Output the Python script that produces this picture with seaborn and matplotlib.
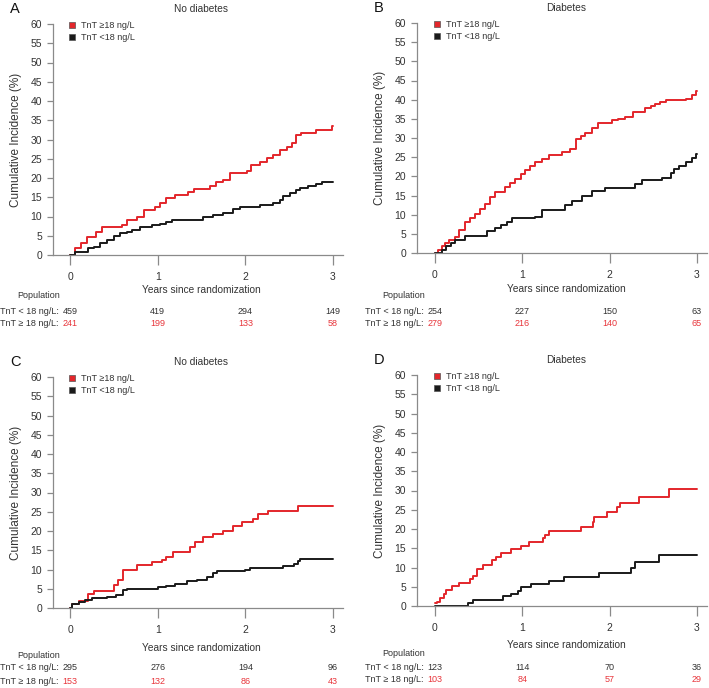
import numpy as np
import pandas as pd
import matplotlib
matplotlib.use("Agg")
import matplotlib.pyplot as plt
from matplotlib.lines import Line2D
import seaborn as sns

# ---------------- data ----------------
a_hi_t = [0, 0.06, 0.13, 0.19, 0.30, 0.36, 0.59, 0.65, 0.76, 0.84, 0.97, 1.03, 1.10, 1.20, 1.35, 1.41,
          1.60, 1.67, 1.75, 1.83, 2.02, 2.07, 2.17, 2.25, 2.32, 2.40, 2.47, 2.53, 2.58, 2.64, 2.81, 2.99, 3.0]
a_hi_y = [0, 1.8, 3.0, 4.6, 6.1, 7.2, 7.8, 9.1, 10.0, 11.7, 12.5, 13.4, 14.7, 15.5, 16.4, 17.1,
          17.9, 19.0, 19.6, 21.2, 21.8, 23.3, 24.2, 25.1, 26.0, 27.3, 28.1, 29.0, 31.2, 31.6, 32.5, 33.5, 33.5]
a_lo_t = [0, 0.06, 0.21, 0.27, 0.34, 0.42, 0.50, 0.57, 0.65, 0.71, 0.80, 0.93, 1.03, 1.10, 1.16, 1.52,
          1.63, 1.75, 1.86, 1.94, 2.17, 2.32, 2.40, 2.43, 2.51, 2.58, 2.62, 2.72, 2.81, 2.87, 3.0]
a_lo_y = [0, 0.9, 1.8, 2.2, 3.0, 3.9, 4.9, 5.7, 6.0, 6.6, 7.2, 7.7, 8.1, 8.6, 9.1, 9.8,
          10.4, 11.0, 11.9, 12.4, 13.0, 13.6, 14.3, 15.3, 16.0, 17.0, 17.5, 17.9, 18.4, 19.0, 19.0]

b_hi_t = [0, 0.04, 0.08, 0.11, 0.16, 0.23, 0.28, 0.34, 0.40, 0.46, 0.52, 0.57, 0.63, 0.69, 0.80, 0.86,
          0.92, 0.98, 1.03, 1.09, 1.15, 1.22, 1.30, 1.45, 1.55, 1.62, 1.67, 1.72, 1.80, 1.87, 2.03, 2.10,
          2.18, 2.27, 2.41, 2.47, 2.52, 2.58, 2.64, 2.87, 2.94, 2.99, 3.0]
b_hi_y = [0, 0.9, 1.7, 2.5, 3.3, 4.2, 6.0, 8.1, 9.2, 10.3, 11.6, 12.9, 14.5, 16.0, 17.2, 18.2,
          19.4, 20.5, 21.6, 22.7, 23.8, 24.6, 25.5, 26.4, 27.2, 29.8, 30.5, 31.2, 32.5, 33.8, 34.6, 35.0,
          35.5, 36.8, 37.7, 38.3, 39.0, 39.5, 40.0, 40.3, 41.2, 42.2, 42.2]
b_lo_t = [0, 0.08, 0.13, 0.18, 0.23, 0.34, 0.59, 0.69, 0.76, 0.82, 0.88, 1.15, 1.22, 1.49, 1.57, 1.68,
          1.80, 1.95, 2.29, 2.37, 2.60, 2.70, 2.74, 2.79, 2.87, 2.94, 2.99, 3.0]
b_lo_y = [0, 0.9, 1.7, 2.6, 3.5, 4.4, 5.7, 6.5, 7.4, 8.2, 9.1, 9.5, 11.3, 12.6, 13.5, 14.8,
          16.1, 17.0, 17.9, 19.0, 19.6, 20.9, 22.0, 22.8, 23.7, 24.8, 25.7, 25.7]

c_hi_t = [0, 0.02, 0.10, 0.21, 0.27, 0.50, 0.55, 0.61, 0.76, 0.93, 1.05, 1.10, 1.18, 1.37, 1.43, 1.52,
          1.63, 1.75, 1.86, 1.96, 2.09, 2.14, 2.26, 2.60, 3.0]
c_hi_y = [0, 1.0, 1.9, 3.6, 4.5, 5.9, 7.2, 9.8, 11.1, 12.0, 12.4, 13.2, 14.5, 15.8, 17.1, 18.4,
          19.3, 20.1, 21.4, 22.3, 23.2, 24.3, 25.1, 26.4, 26.4]
c_lo_t = [0, 0.02, 0.10, 0.17, 0.25, 0.42, 0.53, 0.61, 0.65, 1.00, 1.10, 1.20, 1.33, 1.45, 1.56, 1.63,
          1.68, 2.00, 2.05, 2.43, 2.55, 2.60, 2.62, 3.0]
c_lo_y = [0, 1.0, 1.6, 2.2, 2.6, 2.8, 3.3, 4.8, 5.0, 5.4, 5.8, 6.3, 7.0, 7.4, 8.0, 9.1,
          9.5, 9.9, 10.3, 10.8, 11.4, 12.3, 12.7, 12.7]

d_hi_t = [0, 0.02, 0.06, 0.10, 0.13, 0.19, 0.27, 0.40, 0.44, 0.48, 0.55, 0.65, 0.70, 0.76, 0.87, 0.99,
          1.08, 1.24, 1.26, 1.31, 1.67, 1.81, 1.82, 1.97, 2.08, 2.12, 2.34, 2.68, 3.0]
d_hi_y = [0.8, 1.1, 2.0, 3.1, 4.2, 5.1, 6.0, 6.9, 7.9, 9.7, 10.6, 11.9, 12.8, 13.8, 14.7, 15.6,
          16.6, 17.7, 18.5, 19.5, 20.6, 21.9, 23.0, 24.3, 25.7, 26.8, 28.4, 30.3, 30.3]
d_lo_t = [0, 0.38, 0.44, 0.78, 0.87, 0.95, 0.99, 1.10, 1.31, 1.48, 1.88, 2.24, 2.29, 2.57, 3.0]
d_lo_y = [0, 0.7, 1.5, 2.5, 3.2, 3.9, 4.9, 5.8, 6.6, 7.5, 8.6, 9.9, 11.4, 13.2, 13.2]

risk_times = [0, 1, 2, 3]
a_risk_lo = [459, 419, 294, 149]
a_risk_hi = [241, 199, 133, 58]
b_risk_lo = [254, 227, 150, 63]
b_risk_hi = [279, 216, 140, 65]
c_risk_lo = [295, 276, 194, 96]
c_risk_hi = [153, 132, 86, 43]
d_risk_lo = [123, 114, 70, 36]
d_risk_hi = [103, 84, 57, 29]

panel_letters = ["A", "B", "C", "D"]
panel_titles = ["No diabetes", "Diabetes", "No diabetes", "Diabetes"]
group_hi = "TnT \u226518 ng/L"
group_lo = "TnT <18 ng/L"
row_lo_label = "TnT < 18 ng/L:"
row_hi_label = "TnT \u2265 18 ng/L:"
x_label = "Years since randomization"
y_label = "Cumulative Incidence (%)"

# ---------------- style ----------------
sns.set_style("white")
plt.rcParams["font.family"] = ["Liberation Sans", "DejaVu Sans"]

RED = "#e3262b"
BLACK = "#1a1a1a"
GREY = "#8a8a8a"
TXT = "#333333"

W, H = 709, 688
fig = plt.figure(figsize=(W / 100, H / 100), dpi=100)

specs = [
    (53, 255, 24, 70, 333),
    (417, 253, 23, 435, 697),
    (53, 608, 377, 70, 333),
    (417, 606, 375, 435, 697),
]
curves = [
    (a_hi_t, a_hi_y, a_lo_t, a_lo_y, a_risk_lo, a_risk_hi),
    (b_hi_t, b_hi_y, b_lo_t, b_lo_y, b_risk_lo, b_risk_hi),
    (c_hi_t, c_hi_y, c_lo_t, c_lo_y, c_risk_lo, c_risk_hi),
    (d_hi_t, d_hi_y, d_lo_t, d_lo_y, d_risk_lo, d_risk_hi),
]
text_rows = [
    (290, 296, 311, 323),
    (289, 295, 311, 323),
    (648, 655, 668, 681),
    (645, 654, 668, 680),
]
TBL = 6.5

for i, ((sx, y0, y60, x0, x3), cur, rows) in enumerate(zip(specs, curves, text_rows)):
    hi_t, hi_y, lo_t, lo_y, r_lo, r_hi = cur
    ppu = (x3 - x0) / 3.0
    right_px = x3 + 10
    xmin = -(x0 - sx) / ppu
    xmax = 3 + (right_px - x3) / ppu
    ax = fig.add_axes([sx / W, 1 - y0 / H, (right_px - sx) / W, (y0 - y60) / H])
    ax.set_xlim(xmin, xmax)
    ax.set_ylim(0, 60)
    ax.patch.set_alpha(0)

    df = pd.DataFrame({
        "t": list(hi_t) + list(lo_t),
        "inc": list(hi_y) + list(lo_y),
        "grp": [group_hi] * len(hi_t) + [group_lo] * len(lo_t),
    })
    sns.lineplot(data=df, x="t", y="inc", hue="grp", hue_order=[group_hi, group_lo],
                 palette={group_hi: RED, group_lo: BLACK}, drawstyle="steps-post",
                 estimator=None, linewidth=1.4, legend=False, ax=ax, clip_on=False)

    for s in ["top", "right"]:
        ax.spines[s].set_visible(False)
    for s in ["left", "bottom"]:
        ax.spines[s].set_color(GREY)
        ax.spines[s].set_linewidth(0.9)
    ax.spines["left"].set_bounds(0, 60)
    ax.set_yticks(range(0, 61, 5))
    ax.set_xticks(risk_times)
    ax.tick_params(axis="y", length=4, width=0.9, color=GREY, pad=4, labelsize=7.5, labelcolor=TXT,
                   left=True, direction="out")
    ax.tick_params(axis="x", length=7, width=0.9, color=GREY, pad=5.5, labelsize=7.5, labelcolor=TXT,
                   bottom=True, direction="out")
    ax.set_xlabel("")
    ax.set_ylabel(y_label, fontsize=8.5, color=TXT)
    ax.yaxis.set_label_coords(-31 / (right_px - sx), 0.5)

    hgt = y0 - y60
    def ay(px):
        return (y0 - px) / hgt
    xl, pop_y, r1, r2 = rows
    ax.text(1.5, ay(xl), x_label, transform=ax.get_xaxis_transform(), ha="center", va="center",
            fontsize=7.3, color=TXT, clip_on=False)
    ax.text(-0.36, ay(pop_y), "Population", transform=ax.get_xaxis_transform(), ha="center",
            va="center", fontsize=TBL, color=TXT, clip_on=False)
    ax.text(-0.13, ay(r1), row_lo_label, transform=ax.get_xaxis_transform(), ha="right",
            va="center", fontsize=TBL, color=TXT, clip_on=False)
    ax.text(-0.13, ay(r2), row_hi_label, transform=ax.get_xaxis_transform(), ha="right",
            va="center", fontsize=TBL, color=TXT, clip_on=False)
    for t, nlo, nhi in zip(risk_times, r_lo, r_hi):
        ax.text(t, ay(r1), str(nlo), transform=ax.get_xaxis_transform(), ha="center",
                va="center", fontsize=TBL, color=TXT, clip_on=False)
        ax.text(t, ay(r2), str(nhi), transform=ax.get_xaxis_transform(), ha="center",
                va="center", fontsize=TBL, color="#e8353b", clip_on=False)

    handles = [
        Line2D([], [], linestyle="none", marker="s", markersize=5, markerfacecolor=RED,
               markeredgecolor="#555555", markeredgewidth=0.5, label=group_hi),
        Line2D([], [], linestyle="none", marker="s", markersize=5, markerfacecolor=BLACK,
               markeredgecolor="#555555", markeredgewidth=0.5, label=group_lo),
    ]
    leg = ax.legend(handles=handles, loc="upper left",
                    bbox_to_anchor=((x0 - 6 - sx) / (right_px - sx), 1.028),
                    frameon=False, fontsize=6.5, handlelength=1.0, handletextpad=0.5,
                    labelspacing=0.3, borderaxespad=0)
    for txt in leg.get_texts():
        txt.set_color(TXT)

    top_px = y60 - 16
    fig.text((sx - 43) / W, 1 - (top_px + 1) / H, panel_letters[i], fontsize=10.5, color="#111111",
             ha="left", va="center")
    cx = x0 + 1.5 * ppu
    fig.text(cx / W, 1 - (top_px + 1) / H, panel_titles[i], fontsize=7.3, color=TXT,
             ha="center", va="center")

fig.savefig("out.png", dpi=100)
